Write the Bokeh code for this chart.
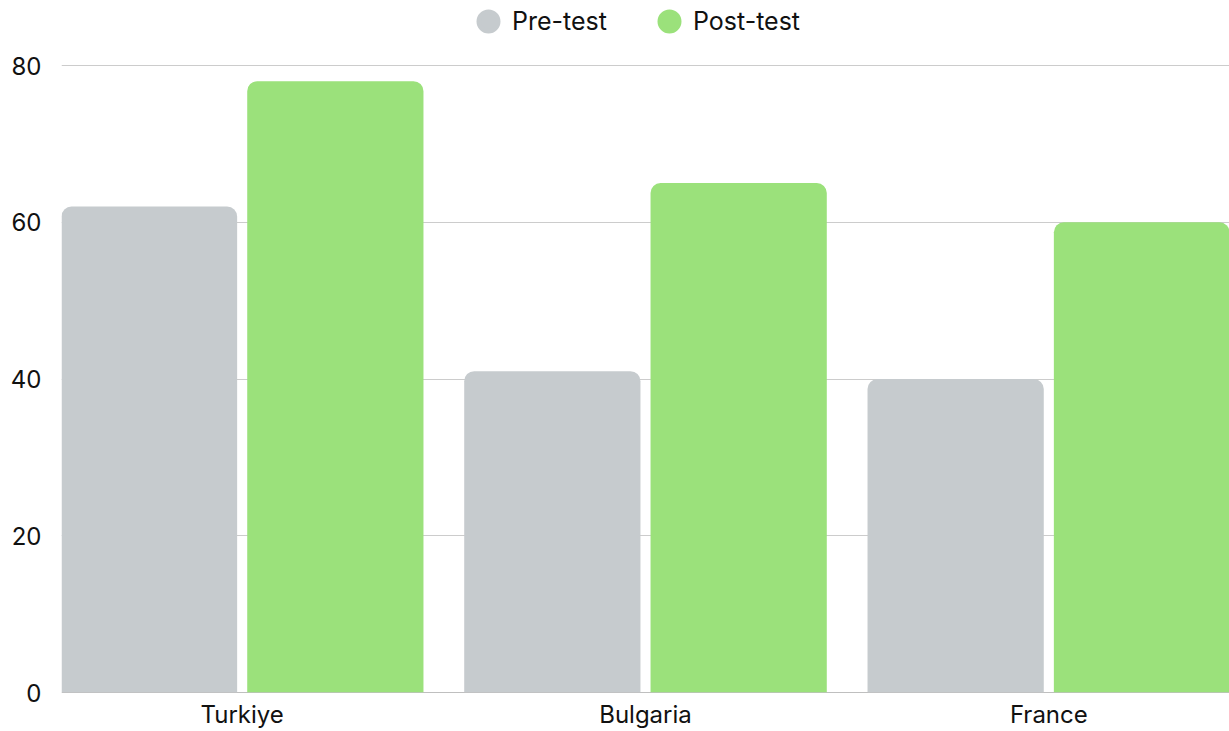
from bokeh.plotting import figure
from bokeh.models import (FactorRange, Range1d, FixedTicker, Legend, LegendItem,
                          ColumnDataSource, Span)
from bokeh.transform import dodge
from bokeh.embed import file_html
from bokeh.resources import INLINE

countries = ["Turkiye", "Bulgaria", "France"]
pre_test = [62, 41, 40]
post_test = [78, 65, 60]
y_ticks = [0, 20, 40, 60, 80]

FONT = "Inter"
GREY = "#c6cbce"
GREEN = "#9be17b"

src = ColumnDataSource(dict(country=countries, pre=pre_test, post=post_test))

p = figure(width=1229, height=731,
           x_range=FactorRange(factors=countries, range_padding=-0.052,
                               range_padding_units="absolute"),
           y_range=Range1d(0, 692 / (627 / 80)),
           output_backend="svg", toolbar_location=None,
           min_border=0, min_border_left=61, min_border_right=0,
           min_border_top=0, min_border_bottom=39)
p.outline_line_color = None
p.background_fill_color = "white"
p.border_fill_color = "white"

# grid
p.xgrid.grid_line_color = None
p.ygrid.ticker = FixedTicker(ticks=y_ticks)
p.ygrid.grid_line_color = "#cccccc"
p.ygrid.grid_line_width = 1

# baseline under the bars
p.add_layout(Span(location=0, dimension="width", line_color="#808080",
                  line_width=1, level="underlay"))

# axes
p.yaxis.ticker = FixedTicker(ticks=y_ticks)
p.yaxis.axis_line_color = None
p.yaxis.major_tick_line_color = None
p.yaxis.minor_tick_line_color = None
p.yaxis.major_tick_out = 0
p.yaxis.major_tick_in = 0
p.yaxis.major_label_standoff = 20
p.yaxis.major_label_text_font = FONT
p.yaxis.major_label_text_font_size = "24px"
p.yaxis.major_label_text_color = "#111111"

p.xaxis.axis_line_color = None
p.xaxis.major_tick_line_color = None
p.xaxis.major_tick_out = 0
p.xaxis.major_tick_in = 0
p.xaxis.major_label_standoff = 7
p.xaxis.major_label_text_font = FONT
p.xaxis.major_label_text_font_size = "24px"
p.xaxis.major_label_text_color = "#111111"

# bars
p.vbar(x=dodge("country", -0.231, range=p.x_range), top="pre", width=0.437,
       source=src, fill_color=GREY, line_color=None,
       border_radius=(10, 10, 0, 0))
p.vbar(x=dodge("country", 0.231, range=p.x_range), top="post", width=0.437,
       source=src, fill_color=GREEN, line_color=None,
       border_radius=(10, 10, 0, 0))

# legend markers (circles); y is NaN so nothing is drawn in the plot itself
nan = float("nan")
r_pre = p.scatter(x=[countries[0]], y=[nan], marker="circle",
                  fill_color=GREY, line_color=GREY, line_width=4.8)
r_post = p.scatter(x=[countries[0]], y=[nan], marker="circle",
                   fill_color=GREEN, line_color=GREEN, line_width=4.8)

legend = Legend(items=[LegendItem(label="Pre-test", renderers=[r_pre]),
                       LegendItem(label="Post-test", renderers=[r_post])],
                orientation="horizontal", location=(403, 641),
                glyph_width=48, glyph_height=60, label_standoff=0,
                spacing=38, padding=0, margin=0,
                border_line_color=None, background_fill_alpha=0,
                label_text_font=FONT, label_text_font_size="25px",
                label_text_color="#111111")
p.add_layout(legend)

open("out.html", "w").write(file_html(p, INLINE))
